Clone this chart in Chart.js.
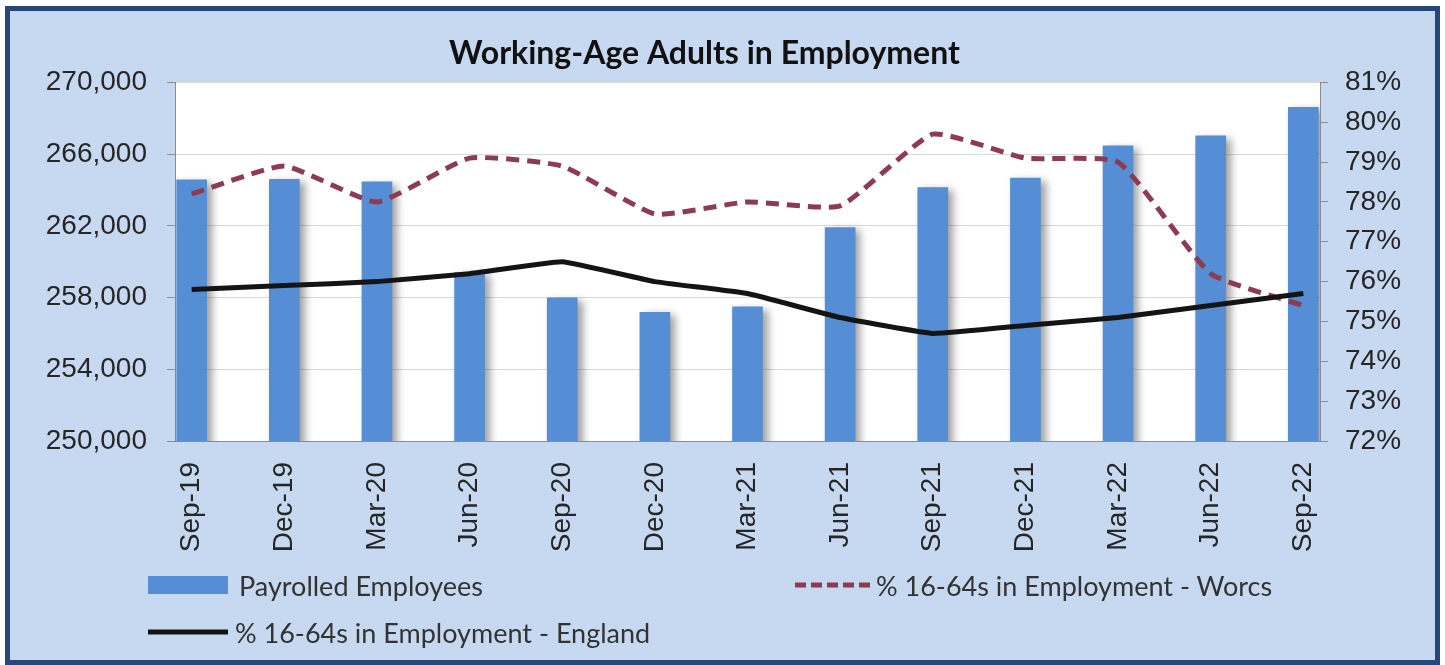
<!DOCTYPE html>
<html>
<head>
<meta charset="utf-8">
<script src="https://cdn.jsdelivr.net/npm/chart.js@4.4.0/dist/chart.umd.min.js"></script>
<style>
  html, body { margin: 0; padding: 0; background: #ffffff; }
  #wrap { position: relative; width: 1445px; height: 665px; overflow: hidden; }
  canvas { display: block; }
  .leg { position: absolute; display: flex; align-items: center; white-space: nowrap;
         font-family: Lato, "Open Sans", sans-serif; font-size: 27px; color: #333333; }
  .leg svg { display: block; flex: none; }
</style>
</head>
<body>
<div id="wrap">
  <canvas id="c" width="1445" height="665"></canvas>
  <div id="legend"></div>
</div>
<script>
// ---- data ----
const categories = ['Sep-19', 'Dec-19', 'Mar-20', 'Jun-20', 'Sep-20', 'Dec-20', 'Mar-21',
                    'Jun-21', 'Sep-21', 'Dec-21', 'Mar-22', 'Jun-22', 'Sep-22'];
const payrolledEmployees = [264560, 264600, 264450, 259400, 257980, 257180, 257480,
                            261900, 264140, 264660, 266460, 267020, 268610];
const worcsPct = [78.2, 78.9, 78.0, 79.1, 78.9, 77.7, 78.0, 77.9, 79.7, 79.1, 79.0, 76.2, 75.4];
const englandPct = [75.8, 75.9, 76.0, 76.2, 76.5, 76.0, 75.7, 75.1, 74.7, 74.9, 75.1, 75.4, 75.7];
const leftTicks = [250000, 254000, 258000, 262000, 266000, 270000];
const rightTicks = [72, 73, 74, 75, 76, 77, 78, 79, 80, 81];
const seriesNames = ['Payrolled Employees', '% 16-64s in Employment - Worcs', '% 16-64s in Employment - England'];
const titleText = 'Working-Age Adults in Employment';

const toPoints = arr => arr.map((v, i) => ({ x: i, y: v }));

const bgPlugin = {
  id: 'bg',
  beforeDraw(chart) {
    const { ctx, width, height, chartArea: a } = chart;
    ctx.save();
    ctx.fillStyle = '#ffffff';
    ctx.fillRect(0, 0, width, height);
    ctx.fillStyle = '#c6d9f0';
    ctx.fillRect(5, 6, 1435, 659);
    ctx.strokeStyle = '#264778';
    ctx.lineWidth = 5;
    ctx.strokeRect(7.5, 8.5, 1430, 654);
    ctx.fillStyle = '#ffffff';
    ctx.fillRect(a.left, a.top, a.right - a.left, a.bottom - a.top);
    ctx.restore();
  }
};

const shadowPlugin = {
  id: 'barShadow',
  beforeDatasetDraw(chart, args) {
    if (chart.data.datasets[args.index].type === 'bar') {
      const ctx = chart.ctx;
      ctx.save();
      ctx.shadowColor = 'rgba(0,0,0,0.38)';
      ctx.shadowBlur = 8;
      ctx.shadowOffsetX = 5;
      ctx.shadowOffsetY = 3;
    }
  },
  afterDatasetDraw(chart, args) {
    if (chart.data.datasets[args.index].type === 'bar') chart.ctx.restore();
  }
};

const tickFont = { family: '"Liberation Sans", Arial, sans-serif', size: 28 };
const tickColor = '#262626';
const axisColor = '#8c8c8c';

const chart = new Chart(document.getElementById('c'), {
  type: 'bar',
  data: {
    datasets: [
      {
        type: 'bar', label: seriesNames[0], data: toPoints(payrolledEmployees),
        backgroundColor: '#558ed5', borderWidth: 0, barThickness: 30,
        yAxisID: 'y', order: 3
      },
      {
        type: 'line', label: seriesNames[1], data: toPoints(worcsPct),
        borderColor: '#8e3b52', borderWidth: 5, borderDash: [13, 8],
        pointRadius: 0, tension: 0.15, fill: false, yAxisID: 'y1', order: 2
      },
      {
        type: 'line', label: seriesNames[2], data: toPoints(englandPct),
        borderColor: '#141414', borderWidth: 5,
        pointRadius: 0, tension: 0.1, fill: false, yAxisID: 'y1', order: 1
      }
    ]
  },
  options: {
    responsive: false,
    animation: false,
    layout: { padding: { top: 0, left: 0, right: 36, bottom: 0 } },
    plugins: {
      legend: { display: false },
      tooltip: { enabled: false },
      title: {
        display: true, text: titleText, color: '#111111',
        font: { family: 'Lato, "Open Sans", sans-serif', weight: 'bold', size: 32, lineHeight: 1.2 },
        padding: { top: 34, bottom: 10 }
      }
    },
    scales: {
      x: {
        type: 'linear', offset: false,
        min: -0.18, max: categories.length - 1 + 0.18,
        grid: { display: false, drawTicks: false, offset: false },
        border: { display: true, color: axisColor, width: 1 },
        ticks: {
          stepSize: 1, includeBounds: false, autoSkip: false,
          minRotation: 90, maxRotation: 90, padding: 21,
          font: tickFont, color: tickColor,
          callback: v => (Number.isInteger(v) && categories[v]) ? categories[v] : ''
        },
        afterFit(scale) { scale.height = 224; }
      },
      y: {
        type: 'linear', position: 'left',
        min: leftTicks[0], max: leftTicks[leftTicks.length - 1],
        grid: { color: '#d9d9d9', tickColor: axisColor, tickLength: 8, drawTicks: true },
        border: { display: true, color: axisColor, width: 1 },
        ticks: {
          stepSize: leftTicks[1] - leftTicks[0], padding: 20,
          font: tickFont, color: tickColor,
          callback: v => v.toLocaleString('en-GB')
        },
        afterFit(scale) { scale.width = 175; }
      },
      y1: {
        type: 'linear', position: 'right',
        min: rightTicks[0], max: rightTicks[rightTicks.length - 1],
        grid: { drawOnChartArea: false, tickColor: axisColor, tickLength: 8 },
        border: { display: true, color: axisColor, width: 1 },
        ticks: {
          stepSize: rightTicks[1] - rightTicks[0], padding: 17,
          font: tickFont, color: tickColor,
          callback: v => v + '%'
        },
        afterFit(scale) { scale.width = 89; }
      }
    }
  },
  plugins: [bgPlugin, shadowPlugin]
});

// ---- legend (HTML, built from the chart's datasets) ----
const legendSlots = [
  { left: 148, cy: 585, w: 80, gap: 11 },
  { left: 795, cy: 585, w: 75, gap: 6 },
  { left: 148, cy: 632, w: 80, gap: 7 }
];
const host = document.getElementById('legend');
chart.data.datasets.forEach((ds, i) => {
  const s = legendSlots[i];
  const item = document.createElement('div');
  item.className = 'leg';
  item.style.left = s.left + 'px';
  item.style.top = (s.cy - 20) + 'px';
  item.style.height = '40px';
  let svg;
  if (ds.type === 'bar') {
    svg = `<svg width="${s.w}" height="18"><rect x="0" y="0" width="${s.w}" height="18" fill="${ds.backgroundColor}"/></svg>`;
  } else {
    const dash = ds.borderDash ? 'stroke-dasharray="11 5"' : '';
    svg = `<svg width="${s.w}" height="10"><line x1="0" y1="5" x2="${s.w}" y2="5" stroke="${ds.borderColor}" stroke-width="5" ${dash}/></svg>`;
  }
  item.innerHTML = svg + `<span style="margin-left:${s.gap}px"></span>`;
  item.querySelector('span').textContent = ds.label;
  host.appendChild(item);
});
</script>
</body>
</html>
